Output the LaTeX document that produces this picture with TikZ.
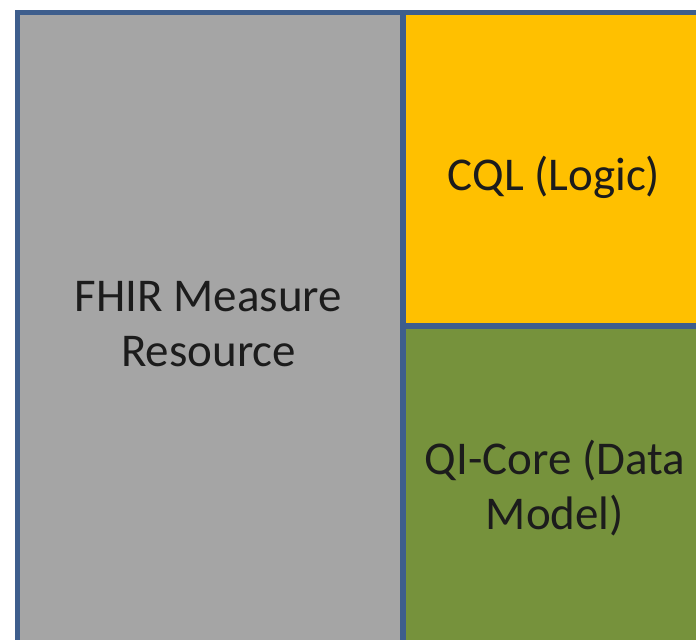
\documentclass[tikz,border=0pt]{standalone}
\usepackage{fontspec}
\setmainfont{Carlito}
\usepackage{tikz}
\usetikzlibrary{positioning}

\definecolor{edgeblue}{RGB}{62,94,141}
\definecolor{measuregray}{RGB}{165,165,165}
\definecolor{logicyellow}{RGB}{255,192,0}
\definecolor{modelgreen}{RGB}{118,146,60}
\definecolor{labeltext}{RGB}{28,28,28}

\begin{document}
\begin{tikzpicture}[x=0.5pt,y=-0.5pt,
    part/.style = {draw=edgeblue,line width=2.75pt},
    partlabel/.style = {font=\fontsize{23.5}{27.5}\selectfont,align=center,text=labeltext,inner sep=0pt}]
    \useasboundingbox (0,0) rectangle (696,639);
    \clip (0,0) rectangle (696,639);
    % the three parts, right and bottom edges run off the page
    \filldraw [part,fill=measuregray] (17.5,12.5) rectangle (403,645);
    \filldraw [part,fill=logicyellow] (403,12.5) rectangle (706,326);
    \filldraw [part,fill=modelgreen] (403,326) rectangle (706,645);
    % labels
    \node [partlabel] (measure) at (208.5,324.5) {FHIR Measure\\Resource};
    \node [partlabel] (logic) at (554,177) {CQL (Logic)};
    \node [partlabel] (model) at (555,488) {QI-Core (Data\\Model)};
\end{tikzpicture}
\end{document}
